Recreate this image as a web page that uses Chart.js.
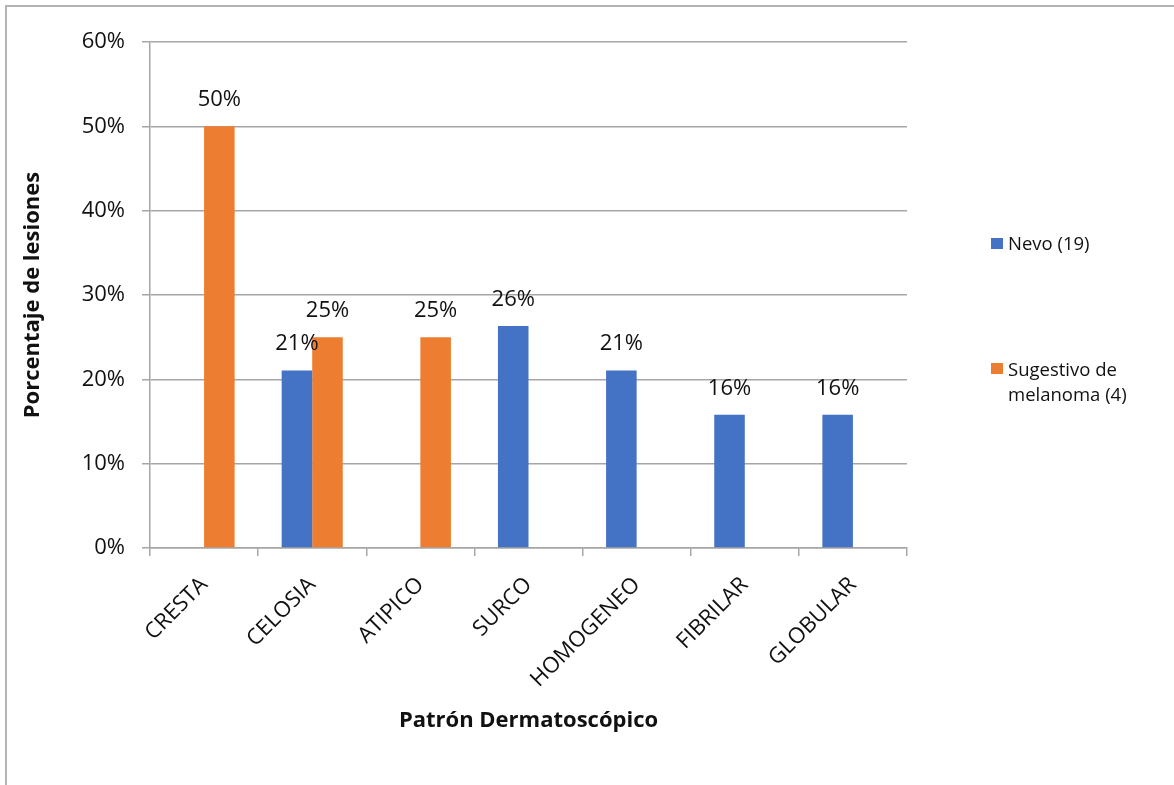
<!DOCTYPE html>
<html>
<head>
<meta charset="utf-8">
<script src="https://cdn.jsdelivr.net/npm/chart.js@4"></script>
<style>
    html, body { margin: 0; padding: 0; background: #fff; }
    #caja { position: relative; width: 1174px; height: 785px; overflow: hidden; font-family: "Open Sans", sans-serif; }
    #marco { position: absolute; left: 5px; top: 5px; right: -10px; bottom: -10px; border-top: 2px solid #b4b4b4; border-left: 2px solid #b4b4b4; }
    canvas { position: absolute; left: 0; top: 0; }
    .leyenda { position: absolute; left: 1008px; font-size: 18.5px; line-height: 25px; color: #111; }
    .cuadro { position: absolute; left: 991px; width: 12px; height: 11px; }
</style>
</head>
<body>
<div id="caja">
    <div id="marco"></div>
    <canvas id="graficoPatrones" width="1174" height="785"></canvas>
    <div class="cuadro" style="top:238px;background:#4472C4"></div>
    <div class="leyenda" style="top:230px">Nevo (19)</div>
    <div class="cuadro" style="top:363px;background:#ED7D31"></div>
    <div class="leyenda" style="top:356px">Sugestivo de<br>melanoma (4)</div>
</div>
<script>
const patrones = ['CRESTA', 'CELOSIA', 'ATIPICO', 'SURCO', 'HOMOGENEO', 'FIBRILAR', 'GLOBULAR'];
const nevo = [null, 21.05, null, 26.32, 21.05, 15.79, 15.79];
const melanoma = [50, 25, 25, null, null, null, null];
const nombresSeries = ['Nevo (19)', 'Sugestivo de melanoma (4)'];

const etiquetasDatos = {
    id: 'etiquetasDatos',
    afterDatasetsDraw(chart) {
        const ctx = chart.ctx;
        ctx.save();
        ctx.font = '22px "Open Sans"';
        ctx.fillStyle = '#111';
        ctx.textAlign = 'center';
        ctx.textBaseline = 'alphabetic';
        chart.data.datasets.forEach((ds, i) => {
            chart.getDatasetMeta(i).data.forEach((barra, j) => {
                const valor = ds.data[j];
                if (valor === null) return;
                ctx.fillText(Math.round(valor) + '%', barra.x, barra.y - 20);
            });
        });
        ctx.restore();
    }
};

const ctx = document.getElementById('graficoPatrones').getContext('2d');
new Chart(ctx, {
    type: 'bar',
    data: {
        labels: patrones,
        datasets: [{
            label: nombresSeries[0],
            data: nevo,
            backgroundColor: '#4472C4',
            categoryPercentage: 0.565,
            barPercentage: 1
        }, {
            label: nombresSeries[1],
            data: melanoma,
            backgroundColor: '#ED7D31',
            categoryPercentage: 0.565,
            barPercentage: 1
        }]
    },
    options: {
        responsive: false,
        animation: false,
        layout: { padding: { left: 16, top: 42, right: 267, bottom: 47 } },
        plugins: {
            legend: { display: false },
            tooltip: { enabled: false }
        },
        scales: {
            x: {
                afterFit(scale) { scale.height = 190; },
                grid: {
                    drawOnChartArea: false,
                    drawTicks: true,
                    tickLength: 8,
                    color: '#a6a6a6',
                    lineWidth: 1.5
                },
                border: { color: '#a6a6a6', width: 1.5 },
                ticks: {
                    autoSkip: false,
                    minRotation: 45,
                    maxRotation: 45,
                    padding: 16,
                    color: '#111',
                    font: { family: 'Open Sans', size: 22 }
                },
                title: {
                    display: true,
                    text: 'Patrón Dermatoscópico',
                    color: '#111',
                    font: { family: 'Open Sans', size: 22, weight: 'bold' }
                }
            },
            y: {
                min: 0,
                max: 60,
                afterFit(scale) { scale.width = 134; },
                grid: {
                    color: '#a6a6a6',
                    lineWidth: 1.5,
                    tickLength: 8
                },
                border: { color: '#a6a6a6', width: 1.5 },
                ticks: {
                    stepSize: 10,
                    padding: 17,
                    color: '#111',
                    font: { family: 'Open Sans', size: 22 },
                    callback: valor => valor + '%'
                },
                title: {
                    display: true,
                    text: 'Porcentaje de lesiones',
                    color: '#111',
                    font: { family: 'Open Sans', size: 22, weight: 'bold' }
                }
            }
        }
    },
    plugins: [etiquetasDatos]
});
</script>
</body>
</html>
